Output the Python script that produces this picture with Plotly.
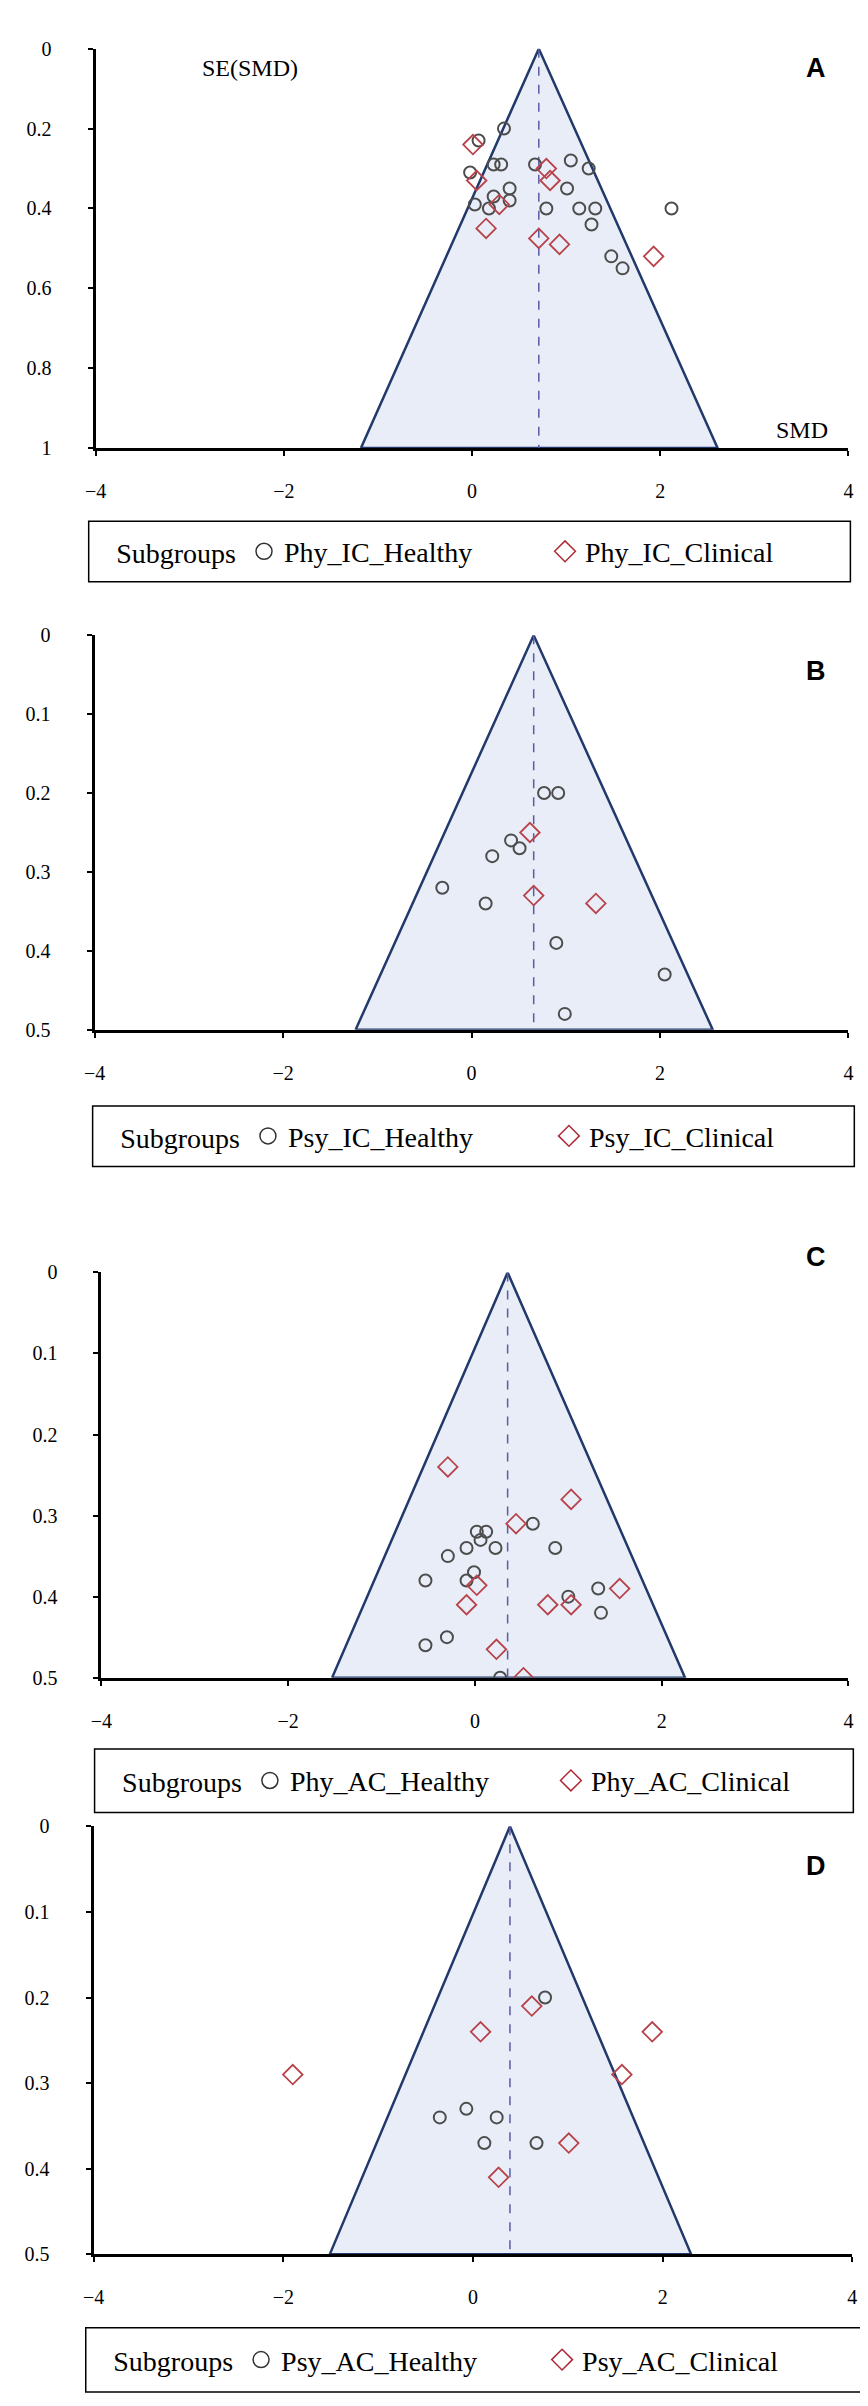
import plotly.graph_objects as go

W = 868
H = 2406

# ---- A: physical activity, inhibitory control ----
a_healthy_smd = [0.34, 0.07, 0.23, 0.31, -0.02, 0.67, 1.05, 1.24, 1.01, 0.40, 0.23,
                 0.40, 0.03, 0.18, 0.79, 1.14, 1.31, 1.27, 2.12, 1.48, 1.60]
a_healthy_se = [0.20, 0.23, 0.29, 0.29, 0.31, 0.29, 0.28, 0.30, 0.35, 0.35, 0.37,
                0.38, 0.39, 0.40, 0.40, 0.40, 0.40, 0.44, 0.40, 0.52, 0.55]
a_clinical_smd = [0.01, 0.05, 0.79, 0.83, 0.29, 0.15, 0.71, 0.93, 1.93]
a_clinical_se = [0.24, 0.33, 0.30, 0.33, 0.39, 0.45, 0.475, 0.49, 0.52]
a_pooled = 0.71
a_funnel_base = [-1.18, 2.61]
a_se_max = 1.0

# ---- B: psychological, inhibitory control ----
b_healthy_smd = [0.77, 0.92, 0.42, 0.51, 0.22, -0.31, 0.15, 0.90, 2.05, 0.99]
b_healthy_se = [0.20, 0.20, 0.26, 0.27, 0.28, 0.32, 0.34, 0.39, 0.43, 0.48]
b_clinical_smd = [0.62, 0.66, 1.32]
b_clinical_se = [0.25, 0.33, 0.34]
b_pooled = 0.66
b_funnel_base = [-1.23, 2.56]
b_se_max = 0.5

# ---- C: physical activity, attentional control ----
c_healthy_smd = [0.02, 0.12, 0.06, 0.62, -0.09, 0.22, 0.86, -0.29, -0.01, -0.53,
                 -0.09, 1.00, 1.32, 1.35, -0.30, -0.53, 0.27]
c_healthy_se = [0.32, 0.32, 0.33, 0.31, 0.34, 0.34, 0.34, 0.35, 0.37, 0.38,
                0.38, 0.40, 0.39, 0.42, 0.45, 0.46, 0.50]
c_clinical_smd = [-0.29, 1.03, 0.44, 1.55, 0.02, -0.09, 0.78, 1.03, 0.23, 0.52]
c_clinical_se = [0.24, 0.28, 0.31, 0.39, 0.386, 0.41, 0.41, 0.41, 0.465, 0.50]
c_pooled = 0.35
c_funnel_base = [-1.53, 2.25]
c_se_max = 0.5

# ---- D: psychological, attentional control ----
d_healthy_smd = [0.76, -0.07, -0.35, 0.25, 0.12, 0.67]
d_healthy_se = [0.20, 0.33, 0.34, 0.34, 0.37, 0.37]
d_clinical_smd = [0.62, 0.08, 1.89, -1.90, 1.57, 1.01, 0.27]
d_clinical_se = [0.21, 0.24, 0.24, 0.29, 0.29, 0.37, 0.41]
d_pooled = 0.39
d_funnel_base = [-1.51, 2.30]
d_se_max = 0.5

x_ticks = [-4, -2, 0, 2, 4]

panels = [
    dict(letter='A', prefix='Phy_IC', healthy=(a_healthy_smd, a_healthy_se),
         clinical=(a_clinical_smd, a_clinical_se), pooled=a_pooled,
         base=a_funnel_base, se_max=a_se_max, dtick=0.2,
         px_x=(78, 845), px_y=(30, 433), box=(71, 847, 507, 568), label_y=32),
    dict(letter='B', prefix='Psy_IC', healthy=(b_healthy_smd, b_healthy_se),
         clinical=(b_clinical_smd, b_clinical_se), pooled=b_pooled,
         base=b_funnel_base, se_max=b_se_max, dtick=0.1,
         px_x=(77, 845), px_y=(622, 1020), box=(75, 851, 1097, 1158), label_y=641),
    dict(letter='C', prefix='Phy_AC', healthy=(c_healthy_smd, c_healthy_se),
         clinical=(c_clinical_smd, c_clinical_se), pooled=c_pooled,
         base=c_funnel_base, se_max=c_se_max, dtick=0.1,
         px_x=(84, 845), px_y=(1265, 1674), box=(77, 850, 1746, 1810), label_y=1249),
    dict(letter='D', prefix='Psy_AC', healthy=(d_healthy_smd, d_healthy_se),
         clinical=(d_clinical_smd, d_clinical_se), pooled=d_pooled,
         base=d_funnel_base, se_max=d_se_max, dtick=0.1,
         px_x=(76, 849), px_y=(1824, 2256), box=(68, 860, 2330, 2395), label_y=1881),
]

serif = 'Liberation Serif'
fill_col = '#e8edf7'
edge_col = '#23396b'
dash_col = '#5a5aa6'
circ_col = '#4d4d4d'
diam_col = '#b8434b'

fig = go.Figure()
layout = {}
shapes = []
annotations = []

for i, p in enumerate(panels):
    n = '' if i == 0 else str(i + 1)
    xa, ya = 'x' + n, 'y' + n
    lg = 'legend' + n
    lo, hi = p['base']
    sm = p['se_max']

    # funnel
    fig.add_trace(go.Scatter(x=[lo, p['pooled'], hi, lo], y=[sm, 0, sm, sm],
                             xaxis=xa, yaxis=ya, mode='lines', fill='toself',
                             fillcolor=fill_col, line=dict(color=edge_col, width=2.5),
                             showlegend=False, hoverinfo='skip', cliponaxis=False))
    fig.add_trace(go.Scatter(x=[p['pooled'], p['pooled']], y=[0, sm],
                             xaxis=xa, yaxis=ya, mode='lines',
                             line=dict(color=dash_col, width=1.5, dash='dash'),
                             showlegend=False, hoverinfo='skip'))
    # studies
    fig.add_trace(go.Scatter(x=p['healthy'][0], y=p['healthy'][1], xaxis=xa, yaxis=ya,
                             mode='markers', name=p['prefix'] + '_Healthy',
                             showlegend=False,
                             marker=dict(symbol='circle-open', size=12, color=circ_col,
                                         line=dict(width=2, color=circ_col))))
    fig.add_trace(go.Scatter(x=p['clinical'][0], y=p['clinical'][1], xaxis=xa, yaxis=ya,
                             mode='markers', name=p['prefix'] + '_Clinical',
                             showlegend=False,
                             marker=dict(symbol='diamond-open', size=15, color=diam_col,
                                         line=dict(width=1.8, color=diam_col))))
    # legend entries, drawn with bigger symbols like the original key
    fig.add_trace(go.Scatter(x=[None], y=[None], xaxis=xa, yaxis=ya, mode='markers',
                             name=p['prefix'] + '_Healthy', legend=lg,
                             marker=dict(symbol='circle-open', size=16, color='#333333',
                                         line=dict(width=1.5, color='#333333'))))
    fig.add_trace(go.Scatter(x=[None], y=[None], xaxis=xa, yaxis=ya, mode='markers',
                             name=p['prefix'] + '_Clinical', legend=lg,
                             marker=dict(symbol='diamond-open', size=16, color='#b02a35',
                                         line=dict(width=1.5, color='#b02a35'))))

    x0, x1 = p['px_x']
    y0, y1 = p['px_y']
    layout['xaxis' + n] = dict(domain=[x0 / W, x1 / W], anchor=ya, range=[-4, 4],
                               tickvals=x_ticks, showline=True, linecolor='black',
                               linewidth=3, ticks='outside', ticklen=5, tickwidth=1.5,
                               tickcolor='black', showgrid=False, zeroline=False,
                               ticklabelstandoff=18,
                               tickfont=dict(family=serif, size=20, color='black'))
    layout['yaxis' + n] = dict(domain=[1 - y1 / H, 1 - y0 / H], anchor=xa,
                               range=[sm, 0], dtick=p['dtick'], showline=True,
                               linecolor='black', linewidth=3, ticks='outside',
                               ticklen=5, tickwidth=1.5, tickcolor='black',
                               showgrid=False, zeroline=False, ticklabelstandoff=32,
                               tickfont=dict(family=serif, size=20, color='black'))

    bx0, bx1, by0, by1 = p['box']
    shapes.append(dict(type='rect', xref='paper', yref='paper',
                       x0=bx0 / W, x1=bx1 / W, y0=1 - by1 / H, y1=1 - by0 / H,
                       line=dict(color='black', width=1.5)))
    layout[lg] = dict(orientation='h', x=(bx0 + 26) / W, xanchor='left',
                      y=1 - (by0 + by1) / 2 / H, yanchor='middle',
                      bgcolor='rgba(0,0,0,0)', borderwidth=0,
                      entrywidth=256, entrywidthmode='pixels', itemsizing='trace',
                      title=dict(text='Subgroups', side='left',
                                 font=dict(family=serif, size=28, color='black')),
                      font=dict(family=serif, size=28, color='black'))

    annotations.append(dict(text='<b>' + p['letter'] + '</b>', xref='paper', yref='paper',
                            x=824 / W, y=1 - p['label_y'] / H, showarrow=False,
                            font=dict(family='Liberation Sans', size=27, color='black')))

annotations.append(dict(text='SE(SMD)', xref='paper', yref='paper', x=184 / W,
                        y=1 - 34 / H, showarrow=False,
                        font=dict(family=serif, size=24, color='black')))
annotations.append(dict(text='SMD', xref='paper', yref='paper', x=826 / W,
                        y=1 - 400 / H, showarrow=False,
                        font=dict(family=serif, size=24, color='black')))

fig.update_layout(**layout)
fig.update_layout(width=W, height=H, margin=dict(l=0, r=0, t=0, b=0),
                  paper_bgcolor='white', plot_bgcolor='white',
                  shapes=shapes, annotations=annotations)

fig.write_html("out.html")
